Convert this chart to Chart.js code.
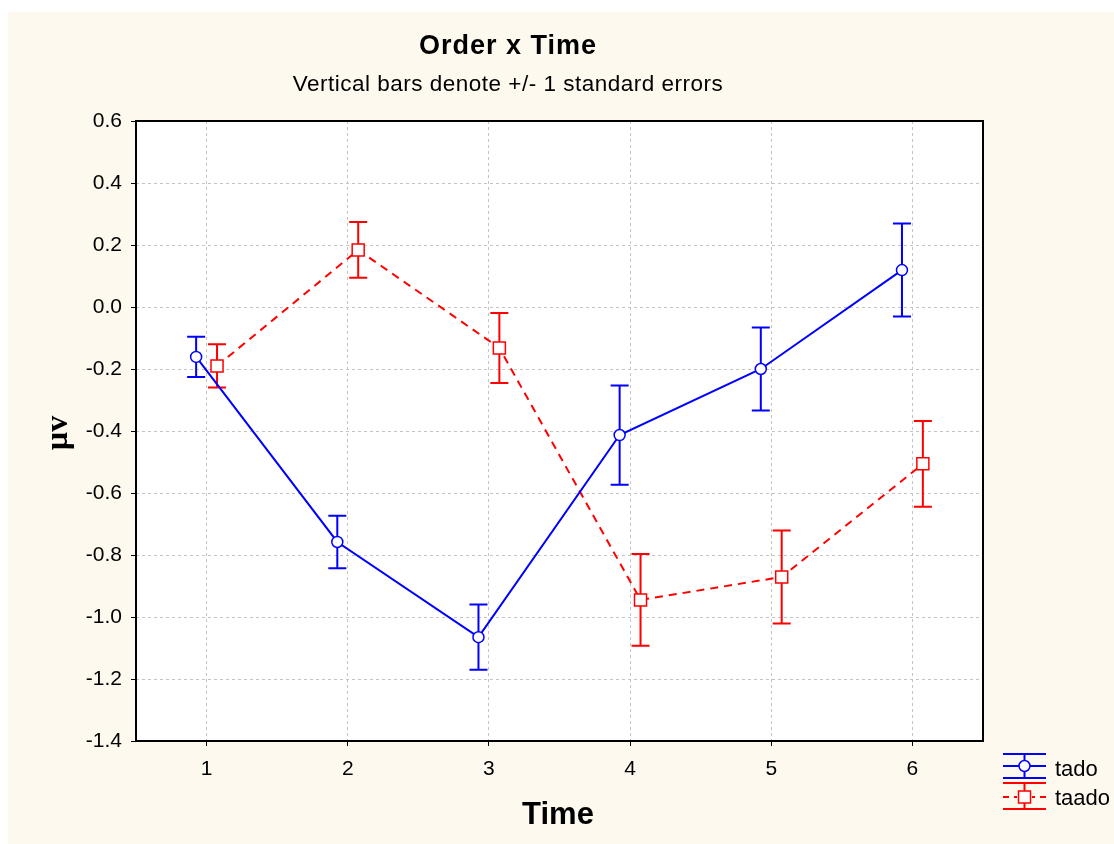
<!DOCTYPE html>
<html>
<head>
<meta charset="utf-8">
<script src="https://cdn.jsdelivr.net/npm/chart.js@4.4.0/dist/chart.umd.min.js"></script>
<style>
  html, body { margin: 0; padding: 0; background: #ffffff; }
  #frame { position: absolute; left: 8px; top: 12px; width: 1106px; height: 832px; background: #fdf9ee; }
  canvas { display: block; }
</style>
</head>
<body>
<div id="frame"><canvas id="chart" width="1106" height="832"></canvas></div>
<script>
// Order x Time: group means with +/- 1 standard error
const timePoints = [1, 2, 3, 4, 5, 6];
const tadoMean  = [-0.161, -0.758, -1.065, -0.413, -0.200, 0.119];
const tadoSE    = [0.065, 0.085, 0.105, 0.160, 0.134, 0.150];
const taadoMean = [-0.190, 0.184, -0.132, -0.945, -0.871, -0.506];
const taadoSE   = [0.070, 0.090, 0.113, 0.148, 0.150, 0.138];
const yTickValues = [0.6, 0.4, 0.2, 0.0, -0.2, -0.4, -0.6, -0.8, -1.0, -1.2, -1.4];
const yTickLabels = ['0.6', '0.4', '0.2', '0.0', '-0.2', '-0.4', '-0.6', '-0.8', '-1.0', '-1.2', '-1.4'];
const xTickLabels = ['1', '2', '3', '4', '5', '6'];

const BLUE = '#0000ff';
const RED = '#ff0000';
const SANS = '"Liberation Sans", Arial, sans-serif';

// groups are drawn slightly apart around each time point
const SHIFT = 0.074;

function pointsFor(means, dir) {
  return timePoints.map((t, i) => ({ x: t + dir * SHIFT, y: means[i] }));
}

const errorBars = {
  id: 'errorBars',
  beforeDatasetsDraw(chart) {
    const { ctx, scales: { x, y } } = chart;
    chart.data.datasets.forEach(ds => {
      ctx.save();
      ctx.strokeStyle = ds.borderColor;
      ctx.lineWidth = 2;
      ctx.setLineDash([]);
      ds.data.forEach((p, i) => {
        const px = x.getPixelForValue(p.x);
        const top = y.getPixelForValue(p.y + ds.se[i]);
        const bot = y.getPixelForValue(p.y - ds.se[i]);
        ctx.beginPath();
        ctx.moveTo(px, top); ctx.lineTo(px, bot);
        ctx.moveTo(px - 9, top); ctx.lineTo(px + 9, top);
        ctx.moveTo(px - 9, bot); ctx.lineTo(px + 9, bot);
        ctx.stroke();
      });
      ctx.restore();
    });
  }
};

const plotFrame = {
  id: 'plotFrame',
  beforeDraw(chart) {
    const { ctx, chartArea: a } = chart;
    ctx.save();
    ctx.fillStyle = '#ffffff';
    ctx.fillRect(a.left, a.top, a.right - a.left, a.bottom - a.top);
    ctx.restore();
  },
  afterDraw(chart) {
    const { ctx, chartArea: a } = chart;
    ctx.save();
    ctx.strokeStyle = '#000000';
    ctx.lineWidth = 2;
    ctx.strokeRect(a.left, a.top, a.right - a.left, a.bottom - a.top);

    // titles
    ctx.fillStyle = '#000000';
    ctx.textAlign = 'center';
    ctx.textBaseline = 'middle';
    ctx.font = 'bold 27px ' + SANS;
    ctx.letterSpacing = '1px';
    ctx.fillText('Order x Time', 500, 35);
    ctx.letterSpacing = '0.5px';
    ctx.font = '22.5px ' + SANS;
    ctx.fillText('Vertical bars denote +/- 1 standard errors', 500, 73);
    ctx.letterSpacing = '0px';

    // axis titles
    ctx.font = 'bold 31px ' + SANS;
    ctx.fillText('Time', 550, 803);
    ctx.save();
    ctx.translate(51, 421);
    ctx.rotate(-Math.PI / 2);
    ctx.font = 'bold 32px "Liberation Serif", "Times New Roman", serif';
    ctx.fillText('\u00b5v', 0, 0);
    ctx.restore();

    // legend
    const lx0 = 995, lx1 = 1038, lc = (lx0 + lx1) / 2;
    // tado
    ctx.strokeStyle = BLUE;
    ctx.lineWidth = 2;
    ctx.beginPath();
    ctx.moveTo(lx0, 742); ctx.lineTo(lx1, 742);
    ctx.moveTo(lx0, 766); ctx.lineTo(lx1, 766);
    ctx.moveTo(lx0, 754); ctx.lineTo(lx1, 754);
    ctx.moveTo(lc, 742); ctx.lineTo(lc, 766);
    ctx.stroke();
    ctx.lineWidth = 1.5;
    ctx.fillStyle = '#ffffff';
    ctx.beginPath();
    ctx.arc(lc, 754, 5.5, 0, Math.PI * 2);
    ctx.fill(); ctx.stroke();
    // taado
    ctx.strokeStyle = RED;
    ctx.lineWidth = 2;
    ctx.beginPath();
    ctx.moveTo(lx0, 771); ctx.lineTo(lx1, 771);
    ctx.moveTo(lx0, 797); ctx.lineTo(lx1, 797);
    ctx.moveTo(lc, 771); ctx.lineTo(lc, 797);
    ctx.moveTo(lx0, 785); ctx.lineTo(lx0 + 6, 785);
    ctx.moveTo(lx0 + 11, 785); ctx.lineTo(lx0 + 14, 785);
    ctx.moveTo(lx1 - 14, 785); ctx.lineTo(lx1 - 11, 785);
    ctx.moveTo(lx1 - 6, 785); ctx.lineTo(lx1, 785);
    ctx.stroke();
    ctx.lineWidth = 1.5;
    ctx.fillStyle = '#ffffff';
    ctx.fillRect(lc - 6, 779, 12, 12);
    ctx.strokeRect(lc - 6, 779, 12, 12);

    ctx.fillStyle = '#000000';
    ctx.textAlign = 'left';
    ctx.textBaseline = 'alphabetic';
    ctx.font = '22px ' + SANS;
    ctx.fillText('tado', 1047, 764);
    ctx.fillText('taado', 1047, 793);
    ctx.restore();
  }
};

new Chart(document.getElementById('chart'), {
  type: 'scatter',
  data: {
    datasets: [
      {
        label: 'tado',
        data: pointsFor(tadoMean, -1),
        se: tadoSE,
        showLine: true,
        borderColor: BLUE,
        borderWidth: 2,
        pointStyle: 'circle',
        pointRadius: 5.5,
        pointBorderWidth: 1.5,
        pointBackgroundColor: '#ffffff',
        pointBorderColor: BLUE
      },
      {
        label: 'taado',
        data: pointsFor(taadoMean, 1),
        se: taadoSE,
        showLine: true,
        borderColor: RED,
        borderWidth: 2,
        borderDash: [8, 6],
        pointStyle: 'rect',
        pointRadius: 8.5,
        pointBorderWidth: 1.5,
        pointBackgroundColor: '#ffffff',
        pointBorderColor: RED
      }
    ]
  },
  options: {
    responsive: false,
    animation: false,
    devicePixelRatio: 1,
    layout: { padding: { top: 109, right: 131, left: 0, bottom: 0 } },
    plugins: {
      legend: { display: false },
      title: { display: false },
      tooltip: { enabled: false }
    },
    scales: {
      x: {
        type: 'linear',
        min: 0.5,
        max: 6.5,
        afterBuildTicks: s => { s.ticks = timePoints.map(v => ({ value: v })); },
        afterFit: s => { s.height = 103; },
        ticks: {
          callback: (v) => xTickLabels[timePoints.indexOf(v)],
          color: '#000000',
          font: { family: SANS, size: 21 },
          padding: 11,
          maxRotation: 0
        },
        grid: { color: '#c4c4c4', tickColor: '#000000', tickLength: 5, tickWidth: 1, drawTicks: true },
        border: { display: false, dash: [3, 3] }
      },
      y: {
        type: 'linear',
        min: -1.4,
        max: 0.6,
        afterBuildTicks: s => { s.ticks = yTickValues.map(v => ({ value: v })); },
        afterFit: s => { s.width = 128; },
        ticks: {
          callback: (v) => {
            const i = yTickValues.findIndex(t => Math.abs(t - v) < 1e-9);
            return i >= 0 ? yTickLabels[i] : '';
          },
          color: '#000000',
          font: { family: SANS, size: 21 },
          padding: 9
        },
        grid: { color: '#c4c4c4', tickColor: '#000000', tickLength: 5, tickWidth: 1, drawTicks: true },
        border: { display: false, dash: [3, 3] }
      }
    }
  },
  plugins: [plotFrame, errorBars]
});
</script>
</body>
</html>
